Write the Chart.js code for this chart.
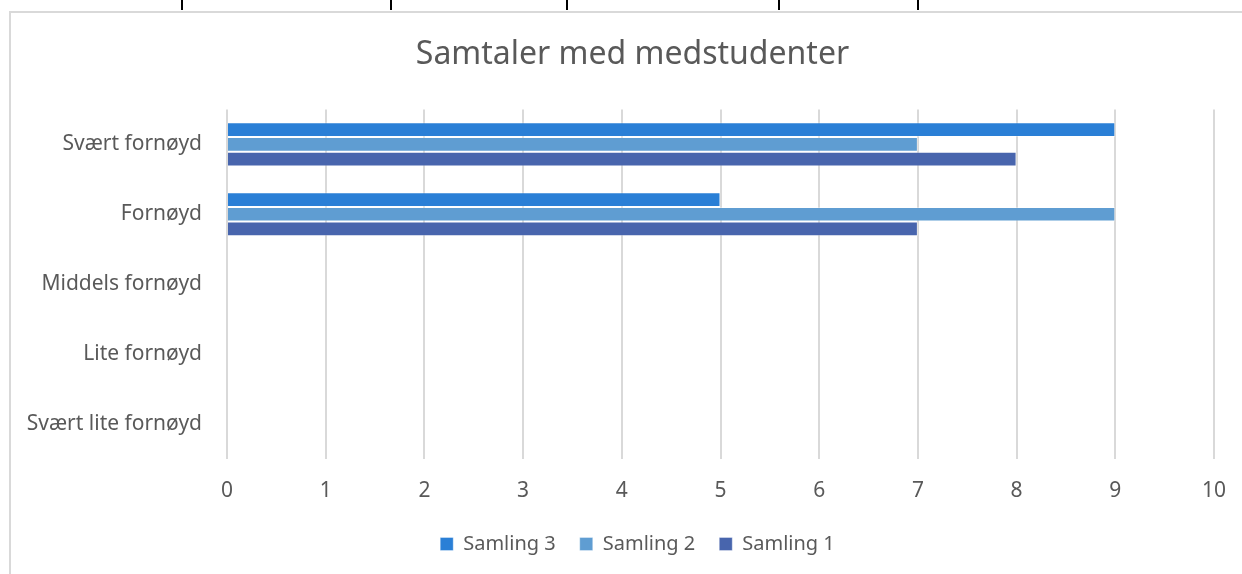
<!DOCTYPE html>
<html>
<head>
<meta charset="utf-8">
<script src="https://cdn.jsdelivr.net/npm/chart.js@4.4.1/dist/chart.umd.min.js"></script>
<style>
    body { margin: 0; background: #fff; overflow: hidden; }
    .frame { position: absolute; left: 9px; top: 11px; width: 1250px; height: 580px; border: 2px solid #d9d9d9; box-sizing: border-box; }
    .tab { position: absolute; top: 0; width: 2px; height: 10px; background: #000; }
    #wrap { position: absolute; left: 11px; top: 13px; width: 1231px; height: 561px; }
</style>
</head>
<body>
<div class="tab" style="left:181px"></div>
<div class="tab" style="left:390px"></div>
<div class="tab" style="left:566px"></div>
<div class="tab" style="left:778px"></div>
<div class="tab" style="left:917px"></div>
<div class="frame"></div>
<div id="wrap"><canvas id="chart"></canvas></div>
<script>
// Chart data
const categories = ["Svært fornøyd", "Fornøyd", "Middels fornøyd", "Lite fornøyd", "Svært lite fornøyd"];
const samling3 = [9, 5, 0, 0, 0];
const samling2 = [7, 9, 0, 0, 0];
const samling1 = [8, 7, 0, 0, 0];
const xTicks = [0, 1, 2, 3, 4, 5, 6, 7, 8, 9, 10];

const textColor = "#595959";
const fontFamily = "'Noto Sans', 'Open Sans', sans-serif";

// nudge title + legend to the right so they center like the original
const shiftBoxes = {
    id: "shiftBoxes",
    afterLayout(chart) {
        if (chart.titleBlock) { chart.titleBlock.left += 20; chart.titleBlock.right += 20; }
        if (chart.legend) { chart.legend.left += 25; chart.legend.right += 25; }
    }
};

const ctx = document.getElementById("chart").getContext("2d");
new Chart(ctx, {
    type: "bar",
    data: {
        labels: categories,
        datasets: [
            { label: "Samling 3", data: samling3, backgroundColor: "#2a7fd6" },
            { label: "Samling 2", data: samling2, backgroundColor: "#5f9dd2" },
            { label: "Samling 1", data: samling1, backgroundColor: "#4865ad" }
        ]
    },
    options: {
        indexAxis: "y",
        responsive: true,
        maintainAspectRatio: false,
        animation: false,
        layout: { padding: { top: 0, right: 28, bottom: 10, left: 0 } },
        datasets: {
            bar: {
                categoryPercentage: 0.63,
                barPercentage: 1,
                borderWidth: 1,
                borderColor: "rgba(255,255,255,0.35)"
            }
        },
        scales: {
            x: {
                min: 0,
                max: 10,
                afterBuildTicks: (scale) => { scale.ticks = xTicks.map(v => ({ value: v })); },
                afterFit: (scale) => {
                    scale.height = 51;
                    scale.paddingRight = 0;
                },
                grid: { color: "#d9d9d9", lineWidth: 2, drawTicks: false },
                border: { display: false },
                ticks: { color: textColor, padding: 19, font: { family: fontFamily, size: 21 } }
            },
            y: {
                afterFit: (scale) => { scale.width = 216; },
                grid: { display: false, drawTicks: false },
                border: { display: false },
                ticks: { color: textColor, padding: 25, font: { family: fontFamily, size: 21 } }
            }
        },
        plugins: {
            title: {
                display: true,
                text: "Samtaler med medstudenter",
                color: textColor,
                font: { family: fontFamily, size: 32, weight: "normal" },
                padding: { top: 23, bottom: 35 }
            },
            legend: {
                position: "bottom",
                labels: {
                    color: textColor,
                    boxWidth: 13,
                    boxHeight: 13,
                    padding: 24,
                    font: { family: fontFamily, size: 20 }
                }
            },
            tooltip: { enabled: false }
        }
    },
    plugins: [shiftBoxes]
});
</script>
</body>
</html>
